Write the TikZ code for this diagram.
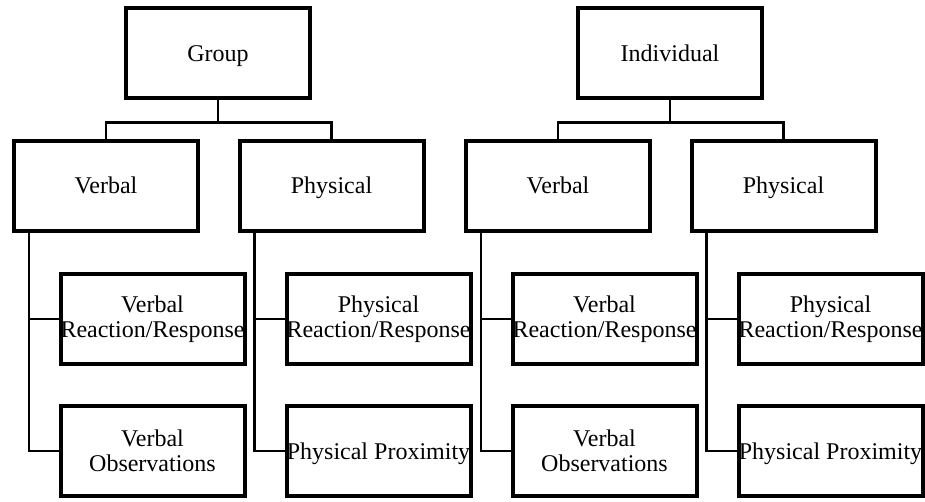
\documentclass[tikz,border=0pt]{standalone}
\usepackage{fontspec}
\setmainfont{Liberation Serif}
\usetikzlibrary{positioning,calc}
\tikzset{box/.style={draw,line width=3pt,minimum width=138pt,minimum height=67.5pt,
  inner sep=0pt,align=center,font=\fontsize{18}{18.75}\selectfont},
  onebox/.style={box,text height=12pt,text depth=0pt},
  conn/.style={line width=2pt}}

\begin{document}
\begin{tikzpicture}[x=0.75pt,y=-0.75pt]
\useasboundingbox (0,0) rectangle (925,502);
\begin{scope}
\node[onebox] (gTop) at (218,53.5) {Group};
\node[onebox] (gVerb) at (106,186) {Verbal};
\node[onebox] (gPhys) at (331.5,186) {Physical};
\node[box] (gVerbRe) at (152.5,319) {Verbal\\Reaction/Response};
\node[box] (gVerbOb) at (152.5,451) {Verbal\\Observations};
\node[box] (gPhysRe) at (378.5,319) {Physical\\Reaction/Response};
\node[onebox] (gPhysPr) at (378.5,451) {Physical Proximity};
\draw[conn] (gTop.south) -- ++(0,22) coordinate (gBar);
\draw[conn] (gVerb.north) |- (gBar) -| (gPhys.north);
\coordinate (gVerbTr) at ($(gVerb.south west)+(17,0)$);
\coordinate (gPhysTr) at ($(gPhys.south west)+(17,0)$);
\draw[conn] (gVerbTr) |- (gVerbOb.west);
\draw[conn] (gVerbTr |- gVerbRe.west) -- (gVerbRe.west);
\draw[conn] (gPhysTr) |- (gPhysPr.west);
\draw[conn] (gPhysTr |- gPhysRe.west) -- (gPhysRe.west);
\end{scope}
\begin{scope}[xshift=339pt]
\node[onebox] (iTop) at (218,53.5) {Individual};
\node[onebox] (iVerb) at (106,186) {Verbal};
\node[onebox] (iPhys) at (331.5,186) {Physical};
\node[box] (iVerbRe) at (152.5,319) {Verbal\\Reaction/Response};
\node[box] (iVerbOb) at (152.5,451) {Verbal\\Observations};
\node[box] (iPhysRe) at (378.5,319) {Physical\\Reaction/Response};
\node[onebox] (iPhysPr) at (378.5,451) {Physical Proximity};
\draw[conn] (iTop.south) -- ++(0,22) coordinate (iBar);
\draw[conn] (iVerb.north) |- (iBar) -| (iPhys.north);
\coordinate (iVerbTr) at ($(iVerb.south west)+(17,0)$);
\coordinate (iPhysTr) at ($(iPhys.south west)+(17,0)$);
\draw[conn] (iVerbTr) |- (iVerbOb.west);
\draw[conn] (iVerbTr |- iVerbRe.west) -- (iVerbRe.west);
\draw[conn] (iPhysTr) |- (iPhysPr.west);
\draw[conn] (iPhysTr |- iPhysRe.west) -- (iPhysRe.west);
\end{scope}
\end{tikzpicture}
\end{document}
